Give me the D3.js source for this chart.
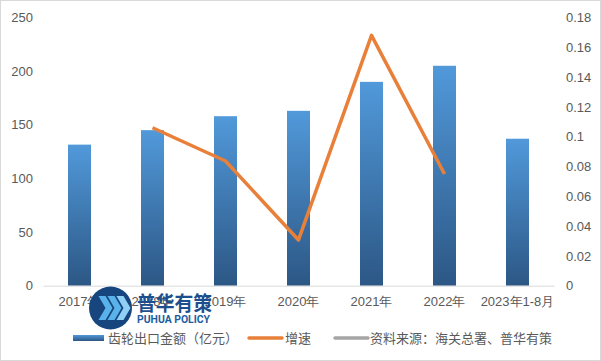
<!DOCTYPE html>
<html>
<head>
<meta charset="utf-8">
<script src="https://cdn.jsdelivr.net/npm/d3@7"></script>
<style>
  body { margin: 0; background: #fff; }
  svg { display: block; font-family: "Noto Sans CJK SC", "Microsoft YaHei", sans-serif; }
  .tick text { fill: #595959; font-size: 13px; }
</style>
</head>
<body>
<svg id="chart" width="601" height="361"></svg>
<script>
const years = ['2017年', '2018年', '2019年', '2020年', '2021年', '2022年', '2023年1-8月'];
const amount = [131.5, 145, 158, 163, 190, 205, 137];   // 齿轮出口金额（亿元）
const growth = [null, 0.106, 0.0837, 0.0307, 0.168, 0.075, null]; // 增速
const leftTicks = [0, 50, 100, 150, 200, 250];
const rightTicks = [0, 0.02, 0.04, 0.06, 0.08, 0.1, 0.12, 0.14, 0.16, 0.18];

const svg = d3.select('#chart');
const margin = { left: 43, right: 47, top: 17.5, bottom: 75.3 };
const width = 601 - margin.left - margin.right;
const height = 361 - margin.top - margin.bottom;

// outer border
svg.append('rect')
  .attr('x', 0.5).attr('y', 0.5).attr('width', 600).attr('height', 360)
  .attr('fill', 'none').attr('stroke', '#d9d9d9');

const defs = svg.append('defs');
const grad = defs.append('linearGradient')
  .attr('id', 'barGrad').attr('x1', 0).attr('y1', 0).attr('x2', 0).attr('y2', 1);
grad.append('stop').attr('offset', '0%').attr('stop-color', '#5199da');
grad.append('stop').attr('offset', '100%').attr('stop-color', '#2c5785');

const g = svg.append('g')
  .attr('transform', `translate(${margin.left},${margin.top})`);

const x = d3.scaleBand().domain(years).range([0, width]).paddingInner(0.685).paddingOuter(0.3425);
const yL = d3.scaleLinear().domain([0, 250]).range([height, 0]);
const yR = d3.scaleLinear().domain([0, 0.18]).range([height, 0]);

// bars
g.selectAll('.bar')
  .data(years)
  .join('rect')
  .attr('class', 'bar')
  .attr('x', d => x(d))
  .attr('width', x.bandwidth())
  .attr('y', (d, i) => yL(amount[i]))
  .attr('height', (d, i) => height - yL(amount[i]))
  .attr('fill', 'url(#barGrad)');

// axes
const xAxis = g.append('g')
  .attr('transform', `translate(0,${height})`)
  .call(d3.axisBottom(x).tickSize(0).tickPadding(11));
xAxis.select('.domain').attr('stroke', '#d9d9d9');

const leftAxis = g.append('g')
  .call(d3.axisLeft(yL).tickValues(leftTicks).tickSize(0).tickPadding(10));
leftAxis.select('.domain').remove();

const rightAxis = g.append('g')
  .attr('transform', `translate(${width},0)`)
  .call(d3.axisRight(yR).tickValues(rightTicks).tickSize(0).tickPadding(12)
    .tickFormat(d => d3.format('~g')(+d.toFixed(2))));
rightAxis.select('.domain').remove();

// growth line
const line = d3.line()
  .defined(d => d[1] !== null)
  .x(d => x(d[0]) + x.bandwidth() / 2)
  .y(d => yR(d[1]));
g.append('path')
  .datum(years.map((y, i) => [y, growth[i]]))
  .attr('d', line)
  .attr('fill', 'none')
  .attr('stroke', '#e8803a')
  .attr('stroke-width', 3.5)
  .attr('stroke-linejoin', 'round');

// legend
const legend = svg.append('g').attr('font-size', 13).attr('fill', '#595959');
const lgY = 338;
legend.append('rect').attr('x', 73).attr('y', lgY - 3).attr('width', 31).attr('height', 6).attr('fill', 'url(#barGrad)');
legend.append('text').attr('x', 108).attr('y', lgY).attr('dy', '0.35em').text('齿轮出口金额（亿元）');
legend.append('line').attr('x1', 249).attr('x2', 282).attr('y1', lgY).attr('y2', lgY)
  .attr('stroke', '#e8803a').attr('stroke-width', 3.5).attr('stroke-linecap', 'round');
legend.append('text').attr('x', 285).attr('y', lgY).attr('dy', '0.35em').text('增速');
legend.append('line').attr('x1', 335).attr('x2', 368).attr('y1', lgY).attr('y2', lgY)
  .attr('stroke', '#a5a5a5').attr('stroke-width', 3.5).attr('stroke-linecap', 'round');
legend.append('text').attr('x', 370).attr('y', lgY).attr('dy', '0.35em').text('资料来源：海关总署、普华有策');

// watermark logo (sits over the axis labels, as in the source image)
const logo = svg.append('g').attr('transform', 'translate(110.5,308)');
logo.append('circle').attr('r', 21.5).attr('fill', '#17467f');
[-12, -3, 6].forEach((dx, i) => {
  logo.append('path')
    .attr('d', `M${dx},-12 L${dx + 7},-12 L${dx + 14},0 L${dx + 7},12 L${dx},12 L${dx + 7},0 Z`)
    .attr('fill', i === 2 ? '#8fd0f4' : '#5ab2ea');
});
svg.append('text').attr('x', 137).attr('y', 311)
  .attr('font-size', 20).attr('font-weight', 'bold').attr('fill', '#1d4f8f')
  .attr('textLength', 75).attr('lengthAdjust', 'spacingAndGlyphs')
  .text('普华有策');
svg.append('text').attr('x', 137).attr('y', 322.5)
  .attr('font-size', 10.5).attr('font-weight', 'bold').attr('fill', '#1d5c9e')
  .attr('font-family', 'Roboto, sans-serif')
  .attr('textLength', 73).attr('lengthAdjust', 'spacingAndGlyphs')
  .text('PUHUA POLICY');
</script>
</body>
</html>
